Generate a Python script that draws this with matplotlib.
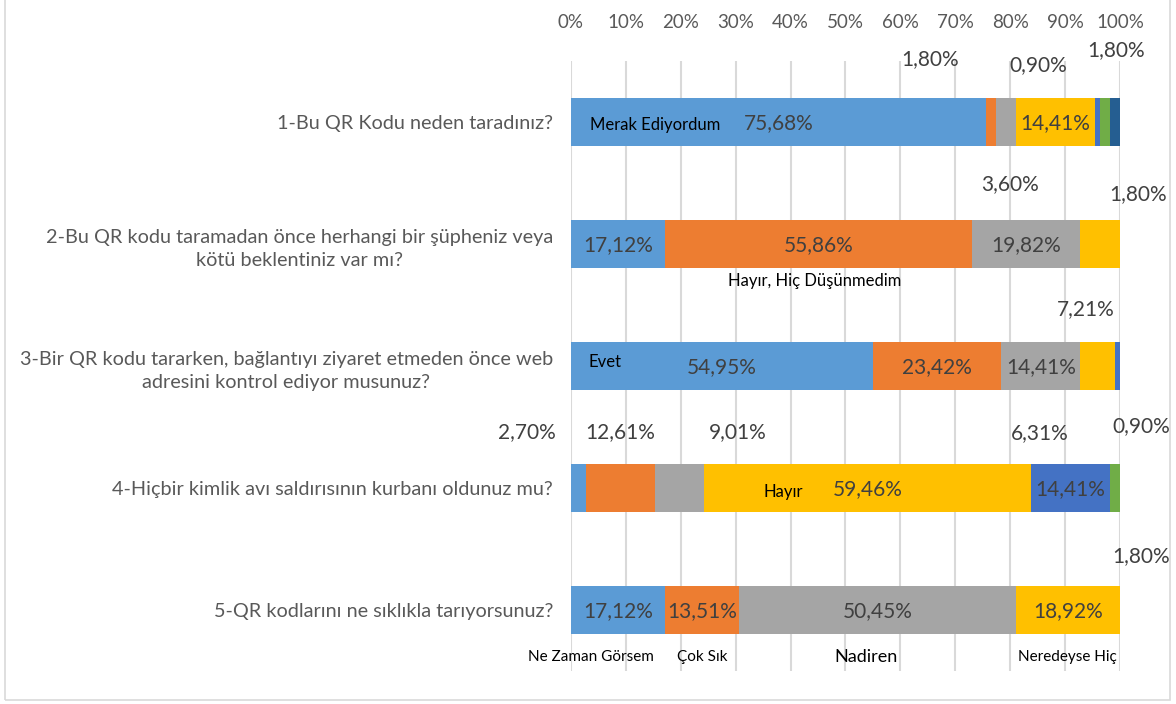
import matplotlib.pyplot as plt
from matplotlib.patches import Rectangle
import numpy as np

plt.rcParams['font.family'] = ['Lato', 'DejaVu Sans']

# sorular (kategoriler)
questions = [
    '1-Bu QR Kodu neden taradınız?',
    '2-Bu QR kodu taramadan önce herhangi bir şüpheniz veya\nkötü beklentiniz var mı?',
    '3-Bir QR kodu tararken, bağlantıyı ziyaret etmeden önce web\nadresini kontrol ediyor musunuz?',
    '4-Hiçbir kimlik avı saldırısının kurbanı oldunuz mu?',
    '5-QR kodlarını ne sıklıkla tarıyorsunuz?',
]

# seriler (her soru için yüzde değerleri)
s1 = [75.68, 17.12, 54.95, 2.70, 17.12]
s2 = [1.80, 55.86, 23.42, 12.61, 13.51]
s3 = [3.60, 19.82, 14.41, 9.01, 50.45]
s4 = [14.41, 7.20, 6.31, 59.46, 18.92]
s5 = [0.90, 0.0, 0.90, 14.41, 0.0]
s6 = [1.80, 0.0, 0.0, 1.80, 0.0]
s7 = [1.80, 0.0, 0.0, 0.0, 0.0]
series = [s1, s2, s3, s4, s5, s6, s7]

# çubuk içinde gösterilen etiketler (soru, seri)
inside_labels = [(0, 0), (0, 3), (1, 0), (1, 1), (1, 2), (2, 0), (2, 1), (2, 2),
                 (3, 3), (3, 4), (4, 0), (4, 1), (4, 2), (4, 3)]

# çubuk dışında kalan etiketler
float_texts = ['1,80%', '0,90%', '1,80%', '3,60%', '1,80%', '7,21%',
               '2,70%', '12,61%', '9,01%', '6,31%', '0,90%', '1,80%']
float_x = [65.4, 85.1, 99.3, 80.0, 103.3, 93.8, -8.0, 8.9, 30.4, 85.4, 103.8, 103.8]
float_y = [-0.52, -0.47, -0.59, 0.51, 0.59, 1.53, 2.54, 2.54, 2.54, 2.55, 2.49, 3.56]

# cevap açıklamaları
ann_texts = ['Merak Ediyordum', 'Hayır, Hiç Düşünmedim', 'Evet', 'Hayır',
             'Ne Zaman Görsem', 'Çok Sık', 'Nadiren', 'Neredeyse Hiç']
ann_x = [15.3, 44.4, 6.2, 38.6, 3.6, 24.0, 53.7, 90.5]
ann_y = [0.02, 1.30, 1.97, 3.03, 4.39, 4.39, 4.39, 4.39]
ann_size = [12, 12, 12, 12, 11, 11, 13, 11]

colors = ['#5B9BD5', '#ED7D31', '#A5A5A5', '#FFC000', '#4472C4', '#70AD47', '#255E91']

def pct(v):
    return f'{v:.2f}'.replace('.', ',') + '%'

fig = plt.figure(figsize=(11.76, 7.04), dpi=100)
fig.patches.append(Rectangle((0.004, 0.006), 0.991, 1.2, transform=fig.transFigure,
                             fill=False, edgecolor='#D9D9D9', linewidth=1.2))
ax = fig.add_axes([0.4855, 0.047, 0.4669, 0.866])

y = np.arange(len(questions))
left = np.zeros(len(questions))
for vals, c in zip(series, colors):
    ax.barh(y, vals, left=left, height=0.39, color=c, zorder=3)
    left += np.array(vals)

# çubuk içi etiketler
for r, s in inside_labels:
    start = sum(series[k][r] for k in range(s))
    v = series[s][r]
    ax.text(start + v / 2, r + 0.01, pct(v), ha='center', va='center',
            fontsize=15, color='#404040', zorder=5)

for t, xx, yy in zip(float_texts, float_x, float_y):
    ax.text(xx, yy, t, ha='center', va='center', fontsize=15, color='#404040',
            zorder=5, clip_on=False)

for t, xx, yy, fs in zip(ann_texts, ann_x, ann_y, ann_size):
    ax.text(xx, yy, t, ha='center', va='center', fontsize=fs, color='black',
            zorder=6, clip_on=False)

ax.set_xlim(0, 100)
ax.set_ylim(4.5, -0.5)
ax.set_xticks(np.arange(0, 101, 10))
ax.set_xticklabels([f'{v}%' for v in range(0, 101, 10)])
ax.xaxis.tick_top()
ax.tick_params(axis='x', length=0, pad=22, labelsize=13.5, labelcolor='#595959')
ax.set_yticks(y)
ax.set_yticklabels(questions, multialignment='center', linespacing=1.45)
ax.tick_params(axis='y', length=0, pad=13, labelsize=14.3, labelcolor='#595959')
ax.grid(axis='x', color='#D9D9D9', linewidth=1.5, zorder=0)
for sp in ax.spines.values():
    sp.set_visible(False)

fig.savefig('out.png', dpi=100)
